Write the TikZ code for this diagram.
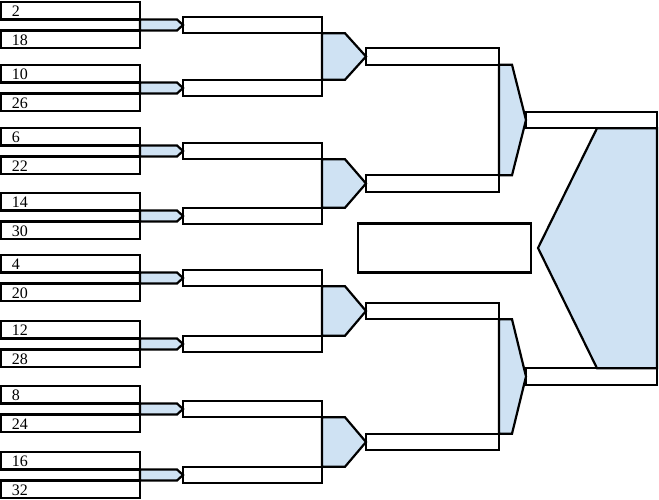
\documentclass[tikz,border=0pt]{standalone}
\usepackage{fontspec}
\setmainfont{Liberation Serif}
\usepackage{xcolor}
\usetikzlibrary{positioning}
\definecolor{slotblue}{HTML}{CFE2F3}

\begin{document}
\begin{tikzpicture}[x=1pt, y=-1pt,
    seed/.style={rectangle, draw, fill=white, line width=2.2pt, inner xsep=11pt, inner ysep=0pt, outer sep=0pt, text width=117pt, text height=12pt, text depth=0pt, minimum height=17.5pt, align=left, font=\fontsize{16}{16}\selectfont},
    slot/.style={rectangle, draw, fill=white, line width=2.2pt, inner sep=0pt, outer sep=0pt, minimum height=16.5pt},
    feed/.style={draw, fill=slotblue, line width=2.2pt}
]
\useasboundingbox (0,0) rectangle (659,500);

% Round 1
\node[seed] (s2) at (70.5, 10.75) {2};
\node[seed] (s18) at (70.5, 39.25) {18};
\node[seed] (s10) at (70.5, 73.75) {10};
\node[seed] (s26) at (70.5, 102.25) {26};
\node[seed] (s6) at (70.5, 136.75) {6};
\node[seed] (s22) at (70.5, 165.25) {22};
\node[seed] (s14) at (70.5, 201.75) {14};
\node[seed] (s30) at (70.5, 230.25) {30};
\node[seed] (s4) at (70.5, 263.75) {4};
\node[seed] (s20) at (70.5, 292.25) {20};
\node[seed] (s12) at (70.5, 329.75) {12};
\node[seed] (s28) at (70.5, 358.25) {28};
\node[seed] (s8) at (70.5, 394.75) {8};
\node[seed] (s24) at (70.5, 423.25) {24};
\node[seed] (s16) at (70.5, 460.75) {16};
\node[seed] (s32) at (70.5, 489.25) {32};

% Round 2
\node[slot, minimum width=139pt] (ra) at (252.5, 25) {};
\node[slot, minimum width=139pt] (rb) at (252.5, 88) {};
\node[slot, minimum width=139pt] (rc) at (252.5, 151) {};
\node[slot, minimum width=139pt] (rd) at (252.5, 216) {};
\node[slot, minimum width=139pt] (re) at (252.5, 278) {};
\node[slot, minimum width=139pt] (rf) at (252.5, 344) {};
\node[slot, minimum width=139pt] (rg) at (252.5, 409) {};
\node[slot, minimum width=139pt] (rh) at (252.5, 475) {};

% Round 3
\node[slot, minimum width=133pt] (qa) at (432.5, 56.5) {};
\node[slot, minimum width=133pt] (qb) at (432.5, 183.5) {};
\node[slot, minimum width=133pt] (qc) at (432.5, 311) {};
\node[slot, minimum width=133pt] (qd) at (432.5, 442) {};

% Final
\node[slot, minimum width=131pt] (fa) at (591.5, 120) {};
\node[slot, minimum width=131pt] (fb) at (591.5, 376.5) {};

% Winner
\node[slot, minimum width=173pt, minimum height=49pt] (win) at (444.5, 248) {};

% Round 1 to round 2
\path[feed] (ra.west) -- ([xshift=37pt]s2.south east) -- (s2.south east) -- (s18.north east) -- ([xshift=37pt]s18.north east) -- cycle;
\path[feed] (rb.west) -- ([xshift=37pt]s10.south east) -- (s10.south east) -- (s26.north east) -- ([xshift=37pt]s26.north east) -- cycle;
\path[feed] (rc.west) -- ([xshift=37pt]s6.south east) -- (s6.south east) -- (s22.north east) -- ([xshift=37pt]s22.north east) -- cycle;
\path[feed] (rd.west) -- ([xshift=37pt]s14.south east) -- (s14.south east) -- (s30.north east) -- ([xshift=37pt]s30.north east) -- cycle;
\path[feed] (re.west) -- ([xshift=37pt]s4.south east) -- (s4.south east) -- (s20.north east) -- ([xshift=37pt]s20.north east) -- cycle;
\path[feed] (rf.west) -- ([xshift=37pt]s12.south east) -- (s12.south east) -- (s28.north east) -- ([xshift=37pt]s28.north east) -- cycle;
\path[feed] (rg.west) -- ([xshift=37pt]s8.south east) -- (s8.south east) -- (s24.north east) -- ([xshift=37pt]s24.north east) -- cycle;
\path[feed] (rh.west) -- ([xshift=37pt]s16.south east) -- (s16.south east) -- (s32.north east) -- ([xshift=37pt]s32.north east) -- cycle;

% Round 2 to round 3
\path[feed] (qa.west) -- ([xshift=23pt]ra.south east) -- (ra.south east) -- (rb.north east) -- ([xshift=23pt]rb.north east) -- cycle;
\path[feed] (qb.west) -- ([xshift=23pt]rc.south east) -- (rc.south east) -- (rd.north east) -- ([xshift=23pt]rd.north east) -- cycle;
\path[feed] (qc.west) -- ([xshift=23pt]re.south east) -- (re.south east) -- (rf.north east) -- ([xshift=23pt]rf.north east) -- cycle;
\path[feed] (qd.west) -- ([xshift=23pt]rg.south east) -- (rg.south east) -- (rh.north east) -- ([xshift=23pt]rh.north east) -- cycle;

% Round 3 to final
\path[feed] (fa.west) -- ([xshift=13pt]qa.south east) -- (qa.south east) -- (qb.north east) -- ([xshift=13pt]qb.north east) -- cycle;
\path[feed] (fb.west) -- ([xshift=13pt]qc.south east) -- (qc.south east) -- (qd.north east) -- ([xshift=13pt]qd.north east) -- cycle;

% Final to winner
\path[feed] ([xshift=7pt]win.east) -- ([xshift=-60pt]fa.south east) -- (fa.south east) -- (fb.north east) -- ([xshift=-60pt]fb.north east) -- cycle;

\end{tikzpicture}
\end{document}
